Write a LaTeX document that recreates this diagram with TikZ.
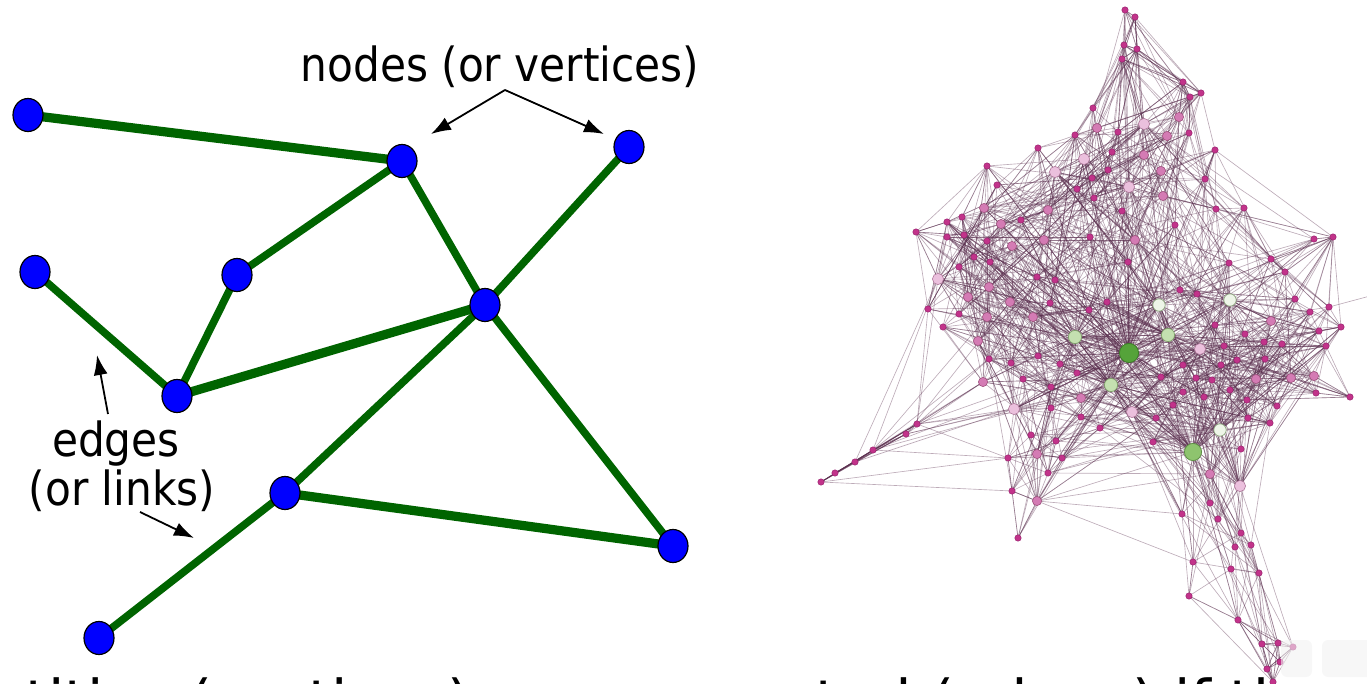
\documentclass[tikz,border=0pt]{standalone}
\usepackage{fontspec}
\newfontfamily\lblfont[FakeStretch=0.9]{DejaVu Sans}
\newfontfamily\capfont{DejaVu Sans}
\usetikzlibrary{arrows.meta,shapes.geometric}
\pgfdeclarelayer{bg}
\pgfsetlayers{bg,main}
\definecolor{edgegreen}{HTML}{006400}
\definecolor{netedge}{HTML}{5A2E4E}
\definecolor{nc0}{HTML}{C2338A}\definecolor{nd0}{HTML}{9A2270}
\definecolor{nc1}{HTML}{D47BB4}\definecolor{nd1}{HTML}{A0527F}
\definecolor{nc2}{HTML}{EBC0DD}\definecolor{nd2}{HTML}{B07A9C}
\definecolor{nc3}{HTML}{EEF5E8}\definecolor{nd3}{HTML}{8AA57C}
\definecolor{nc4}{HTML}{C4E0B0}\definecolor{nd4}{HTML}{7FA06A}
\definecolor{nc5}{HTML}{8EC46E}\definecolor{nd5}{HTML}{5F8F47}
\definecolor{nc6}{HTML}{55A33A}\definecolor{nd6}{HTML}{3C7A28}
\begin{document}
\begin{tikzpicture}[x=0.5pt,y=-0.5pt,
  gnode/.style={ellipse,fill=blue,draw=black,line width=0.6pt,minimum width=15pt,minimum height=16.5pt,inner sep=0pt},
  gedge/.style={draw=edgegreen,line width=3.8pt},
  gedgeb/.style={draw=edgegreen,line width=4.6pt},
  lbl/.style={font={\lblfont\fontsize{23.5}{28}\selectfont},inner sep=0pt,anchor=base},
  arr/.style={draw=black,line width=0.9pt,-{Latex[length=10pt,width=7pt]}},
  netline/.style={draw=netedge,draw opacity=0.4,line width=0.32pt},
  ntype0/.style={circle,inner sep=0pt,minimum size=3.2pt,fill=nc0,draw=nd0,line width=0.25pt},
  ntype1/.style={circle,inner sep=0pt,minimum size=4.6pt,fill=nc1,draw=nd1,line width=0.3pt},
  ntype2/.style={circle,inner sep=0pt,minimum size=5.6pt,fill=nc2,draw=nd2,line width=0.3pt},
  ntype3/.style={circle,inner sep=0pt,minimum size=6.2pt,fill=nc3,draw=nd3,line width=0.35pt},
  ntype4/.style={circle,inner sep=0pt,minimum size=6.6pt,fill=nc4,draw=nd4,line width=0.35pt},
  ntype5/.style={circle,inner sep=0pt,minimum size=8.6pt,fill=nc5,draw=nd5,line width=0.4pt},
  ntype6/.style={circle,inner sep=0pt,minimum size=9.6pt,fill=nc6,draw=nd6,line width=0.4pt}
]
\useasboundingbox (0,0) rectangle (1367,684);
\clip (0,0) rectangle (1367,684);

% ---------------- left graph ----------------
\node[gnode] (A) at (28,115) {};
\node[gnode] (B) at (402,161) {};
\node[gnode] (C) at (629,147) {};
\node[gnode] (D) at (35,272) {};
\node[gnode] (E) at (237,275) {};
\node[gnode] (F) at (485,305) {};
\node[gnode] (G) at (177,396) {};
\node[gnode] (H) at (285,493) {};
\node[gnode] (I) at (673,546) {};
\node[gnode] (J) at (99,638) {};
\begin{pgfonlayer}{bg}
\draw[gedgeb] (A.center) -- (B.center);
\draw[gedge] (B.center) -- (E.center);
\draw[gedge] (B.center) -- (F.center);
\draw[gedge] (C.center) -- (F.center);
\draw[gedge] (D.center) -- (G.center);
\draw[gedge] (E.center) -- (G.center);
\draw[gedgeb] (G.center) -- (F.center);
\draw[gedge] (F.center) -- (H.center);
\draw[gedge] (F.center) -- (I.center);
\draw[gedgeb] (H.center) -- (I.center);
\draw[gedge] (H.center) -- (J.center);
\end{pgfonlayer}

\node[lbl] (nv) at (500,82) {nodes (or vertices)};
\node[lbl] (ed) at (116,457) {edges};
\node[lbl] (ol) at (122,505) {(or links)};
\coordinate (nvfork) at (505,90);
\coordinate (nvL) at (431,134);
\coordinate (nvR) at (604,134);
\draw[arr] (nvfork) -- (nvL);
\draw[arr] (nvfork) -- (nvR);
\coordinate (edS) at (108,414);
\coordinate (edT) at (97,355);
\draw[arr] (edS) -- (edT);
\coordinate (olS) at (140,512);
\coordinate (olT) at (194,538);
\draw[arr] (olS) -- (olT);

% ---------------- right network ----------------
\foreach \x/\y/\t/\r [count=\i] in {
1125/10/0/45, 1135/17/0/45, 1124/45/0/90, 1137/49/0/90, 1122/59/0/105,
1183/82/0/60, 1190/97/0/40, 1201/93/0/40, 1179/117/1/0, 1093/108/0/0,
1097/128/1/0, 1144/124/2/0, 1075/135/0/0, 1118/132/0/0, 1167/136/1/0,
1189/133/0/0, 1038/148/0/0, 1084/159/2/0, 1112/152/0/0, 1144/155/1/0,
1215/150/0/0, 987/166/0/0, 1055/172/2/0, 1108/170/0/0, 1092/178/0/0,
1161/171/1/0, 1205/179/0/0, 997/185/0/0, 1077/189/0/0, 1129/187/2/0,
1163/196/1/0, 1094/198/0/0, 984/208/1/0, 1048/210/1/0, 1216/209/0/0,
1244/208/0/0, 1122/211/0/0, 962/217/0/0, 1021/220/0/0, 1001/224/1/0,
947/222/0/0, 916/232/0/50, 1175/225/0/0, 947/237/0/0, 964/235/0/0,
987/241/0/0, 1044/240/1/0, 1090/237/0/0, 1135/240/1/0, 1012/246/1/0,
1314/239/0/60, 1333/237/0/80, 974/257/0/0, 990/262/0/0, 1128/262/0/0,
1229/263/0/0, 1271/259/0/0, 959/267/0/0, 938/279/2/0, 1037/277/0/0,
1055/280/0/0, 1285/272/0/0, 989/287/1/0, 1180/290/0/0, 1197/294/0/0,
968/297/1/0, 1010/302/1/0, 1050/303/0/0, 1107/302/0/0, 1159/305/3/0,
1230/300/3/0, 1295/299/0/0, 928/309/0/0, 1089/310/0/0, 1310/312/0/0,
1329/307/0/0, 959/314/0/0, 987/317/1/0, 1033/317/1/0, 1215/325/0/0,
1271/321/1/0, 1341/327/0/50, 943/327/0/0, 1245/334/0/0, 1319/331/0/0,
1075/337/4/0, 1168/335/4/0, 978/341/1/0, 1129/353/6/0, 1200/349/2/0,
1264/342/0/0, 1282/344/0/0, 1326/346/0/0, 1224/346/0/0, 989/359/0/0,
1011/363/0/0, 1038/356/0/0, 1060/364/0/0, 1183/365/0/0, 1221/365/0/0,
1237/360/0/0, 1265/359/0/0, 1077/373/0/0, 1111/385/4/0, 983/382/1/0,
1023/379/0/0, 1161/377/0/0, 1196/378/0/0, 1212/380/0/0, 1256/379/1/0,
1291/378/1/0, 1314/376/1/0, 1051/387/0/0, 1081/398/1/0, 1183/392/0/0,
1204/397/0/0, 1230/390/0/0, 1247/400/0/0, 1316/393/0/0, 1350/397/0/60,
1014/409/2/0, 1051/408/0/0, 1132/412/2/0, 1156/418/0/0, 1173/405/0/0,
1248/418/0/0, 1277/406/0/0, 1270/423/0/0, 1081/417/0/0, 1100/428/0/0,
1220/430/3/0, 1031/435/0/0, 1056/441/0/0, 1153/442/0/0, 1241/449/0/0,
1008/458/0/50, 1037/454/1/0, 1062/458/0/0, 1193/452/5/0, 1048/473/0/0,
1210/474/1/0, 1240/486/2/0, 1012/491/0/55, 1037/501/1/60, 1210/503/0/0,
1182/514/0/0, 1218/519/0/0, 1241/533/0/0, 1251/545/0/0, 1235/547/0/0,
1193/562/0/0, 1231/569/0/0, 1259/573/0/0, 1018/538/0/60, 1189/596/0/60,
1238/620/0/80, 1262/644/0/70, 1278/643/0/60, 1293/647/0/50, 1280/662/0/40,
1267/669/0/40, 1273/682/0/40,
917/424/0/100, 906/434/0/100, 873/450/0/110, 855/462/0/70, 835/473/0/60, 821/482/0/195}{
  \coordinate (n\i) at (\x,\y);
  \expandafter\xdef\csname nx\i\endcsname{\x}%
  \expandafter\xdef\csname ny\i\endcsname{\y}%
  \expandafter\xdef\csname nt\i\endcsname{\t}%
  \expandafter\xdef\csname nr\i\endcsname{\r}%
  \xdef\NN{\i}%
}

% random web edges
\pgfmathsetseed{7}
\foreach \i in {1,...,\NN}{
  \pgfmathtruncatemacro\tries{20+12*\csname nt\i\endcsname}
  \pgfmathsetmacro\R{150+30*\csname nt\i\endcsname}
  \foreach \k in {1,...,\tries}{
    \pgfmathrandominteger{\j}{1}{\NN}
    \pgfmathsetmacro\dd{veclen(\csname nx\j\endcsname-\csname nx\i\endcsname,\csname ny\j\endcsname-\csname ny\i\endcsname)}
    \ifdim\dd pt<\R pt \draw[netline] (n\i) -- (n\j);\fi
  }
}
% local edges for peripheral nodes
\foreach \i in {1,...,\NN}{
  \edef\ri{\csname nr\i\endcsname}
  \ifnum\ri>0
    \foreach \j in {1,...,\NN}{
      \pgfmathsetmacro\dd{veclen(\csname nx\j\endcsname-\csname nx\i\endcsname,\csname ny\j\endcsname-\csname ny\i\endcsname)}
      \ifdim\dd pt<\ri pt \draw[netline] (n\i) -- (n\j);\fi
    }
  \fi
}
\coordinate (offR) at (1385,292);
\draw[netline] (n76) -- (offR);

% network nodes
\foreach \i in {1,...,\NN}{
  \begingroup
  \edef\mknode{\noexpand\node[ntype\csname nt\i\endcsname] (v\i) at (n\i) {};}%
  \mknode
  \endgroup
}

% faint overlay boxes
\fill[black!5,fill opacity=0.6,rounded corners=3pt] (1281,640) rectangle (1312,677);
\fill[black!5,fill opacity=0.6,rounded corners=3pt] (1322,640) rectangle (1390,677);

% cut-off caption
\node[anchor=base west,inner sep=0pt,font={\capfont\fontsize{29.5}{35}\selectfont}] (cap) at (-50,722) {Entities (vertices) are connected (edges) if they share};
\end{tikzpicture}
\end{document}
